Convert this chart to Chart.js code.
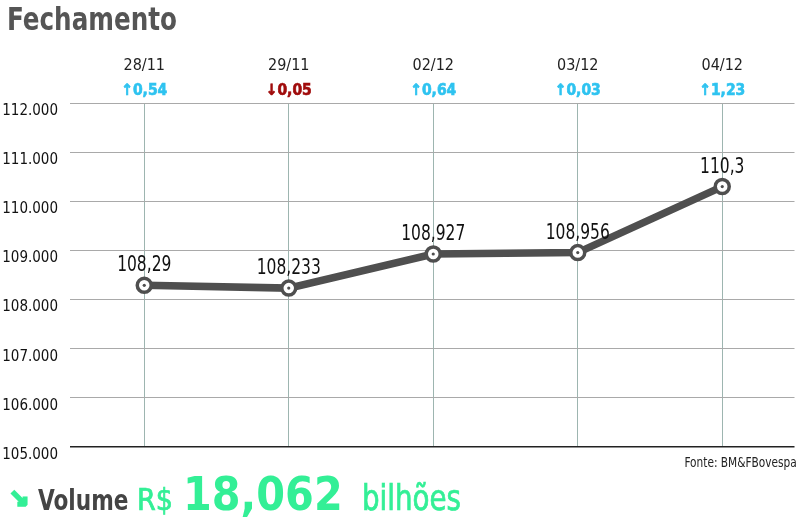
<!DOCTYPE html>
<html>
<head>
<meta charset="utf-8">
<script src="https://cdn.jsdelivr.net/npm/chart.js@4/dist/chart.umd.min.js"></script>
<style>
  html, body { margin: 0; padding: 0; background: #fff; }
  #wrap { position: relative; width: 800px; height: 529px; overflow: hidden; }
  #chart-box { position: absolute; left: 0; top: 0; width: 800px; height: 529px; }
  .txt { position: absolute; white-space: nowrap; font-family: 'DejaVu Sans Condensed', 'DejaVu Sans', sans-serif; transform-origin: left top; }
  #title { left: 7px; top: 4px; font-size: 31.5px; line-height: 31.5px; font-weight: bold; color: #555; transform: scaleX(0.87); }
  #source { right: 3px; top: 455px; font-size: 14px; line-height: 14px; color: #222; transform-origin: right top; transform: scaleX(0.84); }
  #vol-arrow { left: 9px; top: 487px; font-family: 'DejaVu Sans', sans-serif; font-weight: bold; font-size: 24px; line-height: 24px; color: #33ef96; -webkit-text-stroke: 2.5px #33ef96; }
  #vol-label { left: 38px; top: 485.5px; font-size: 29px; line-height: 29px; font-weight: bold; color: #444; transform: scaleX(0.83); }
  #vol-cur { left: 137px; top: 484.5px; font-size: 30px; line-height: 30px; color: #33ef96; -webkit-text-stroke: 0.7px #33ef96; }
  #vol-num { left: 183px; top: 471px; font-weight: bold; font-size: 46px; line-height: 46px; color: #33ef96; }
  #vol-unit { left: 362px; top: 480.5px; font-size: 35px; line-height: 35px; color: #33ef96; -webkit-text-stroke: 0.7px #33ef96; transform: scaleX(0.88); }
</style>
</head>
<body>
<div id="wrap">
  <div id="chart-box"><canvas id="chart"></canvas></div>
  <div class="txt" id="title">Fechamento</div>
  <div class="txt" id="source">Fonte: BM&amp;FBovespa</div>
  <div class="txt" id="vol-arrow">↘</div>
  <div class="txt" id="vol-label">Volume</div>
  <div class="txt" id="vol-cur">R$</div>
  <div class="txt" id="vol-num">18,062</div>
  <div class="txt" id="vol-unit">bilhões</div>
</div>
<script>
// Data (index closes in thousands of points)
const dates = ['28/11', '29/11', '02/12', '03/12', '04/12'];
const closes = [108.29, 108.233, 108.927, 108.956, 110.3];
const changes = [0.54, -0.05, 0.64, 0.03, 1.23];
const yTicks = [105, 106, 107, 108, 109, 110, 111, 112];

const FONT = "'DejaVu Sans Condensed', 'DejaVu Sans', sans-serif";
const LINE_COLOR = '#4f4f4f';
const UP_COLOR = '#2ec3f0';
const DOWN_COLOR = '#a00c0c';

// "↑0,54" / "↓0,05"
const changeLabels = changes.map(v => (v >= 0 ? '\u2191' : '\u2193') + Math.abs(v).toFixed(2).replace('.', ','));

// Top axes: fixed height, no extra side padding
const fitTop = h => s => {
  s.height = h;
  s.paddingLeft = 0;
  s.paddingRight = 0;
};

// Value labels above each point (slightly condensed)
const valueLabels = {
  id: 'valueLabels',
  afterDatasetsDraw(chart) {
    const ctx = chart.ctx;
    const meta = chart.getDatasetMeta(0);
    meta.data.forEach((pt, i) => {
      const text = String(closes[i]).replace('.', ',');
      ctx.save();
      ctx.translate(pt.x, pt.y - 14);
      ctx.scale(0.82, 1);
      ctx.font = '21px ' + FONT;
      ctx.fillStyle = '#111';
      ctx.textAlign = 'center';
      ctx.textBaseline = 'alphabetic';
      ctx.fillText(text, 0, 0);
      ctx.restore();
    });
  }
};

new Chart(document.getElementById('chart'), {
  type: 'line',
  data: {
    labels: dates,
    datasets: [
      {
        data: closes,
        borderColor: LINE_COLOR,
        borderWidth: 7.5,
        tension: 0,
        pointRadius: 7,
        pointBorderWidth: 3.5,
        pointBackgroundColor: '#fff',
        pointBorderColor: LINE_COLOR,
        order: 1
      },
      {
        // small dot in the centre of each marker
        data: closes,
        showLine: false,
        pointRadius: 1.6,
        pointBorderWidth: 0,
        pointBackgroundColor: LINE_COLOR,
        order: 0
      }
    ]
  },
  options: {
    responsive: true,
    maintainAspectRatio: false,
    animation: false,
    layout: { autoPadding: false, padding: { top: 50, right: 5.5, bottom: 82, left: 0 } },
    plugins: {
      legend: { display: false },
      tooltip: { enabled: false }
    },
    scales: {
      x: {
        type: 'category',
        position: 'top',
        weight: 10,
        offset: true,
        afterFit: fitTop(28),
        border: { display: false },
        grid: { color: '#9db5b0', lineWidth: 1, drawTicks: false, offset: false },
        ticks: { padding: 3, color: '#222', font: { family: FONT, size: 16 } }
      },
      xc: {
        type: 'category',
        labels: changeLabels,
        position: 'top',
        weight: 0,
        offset: true,
        afterFit: fitTop(25),
        border: { display: false },
        grid: { display: false, drawTicks: false },
        ticks: {
          padding: 3,
          color: ctx => (changes[ctx.index] >= 0 ? UP_COLOR : DOWN_COLOR),
          textStrokeColor: ctx => (changes[ctx.index] >= 0 ? UP_COLOR : DOWN_COLOR),
          textStrokeWidth: 0.6,
          font: { family: FONT, size: 15.5, weight: 'bold' }
        }
      },
      y: {
        min: yTicks[0],
        max: yTicks[yTicks.length - 1],
        afterFit: s => { s.width = 72; },
        afterBuildTicks: s => { s.ticks = yTicks.map(v => ({ value: v })); },
        border: { display: false },
        grid: {
          color: ctx => (ctx.tick && ctx.tick.value === yTicks[0] ? '#222' : '#a9a9a9'),
          lineWidth: ctx => (ctx.tick && ctx.tick.value === yTicks[0] ? 1.5 : 1),
          drawTicks: true,
          tickLength: 2
        },
        ticks: {
          padding: 12,
          labelOffset: 8,
          color: '#111',
          font: { family: FONT, size: 15 },
          callback: v => v.toFixed(3)
        }
      }
    }
  },
  plugins: [valueLabels]
});
</script>
</body>
</html>
